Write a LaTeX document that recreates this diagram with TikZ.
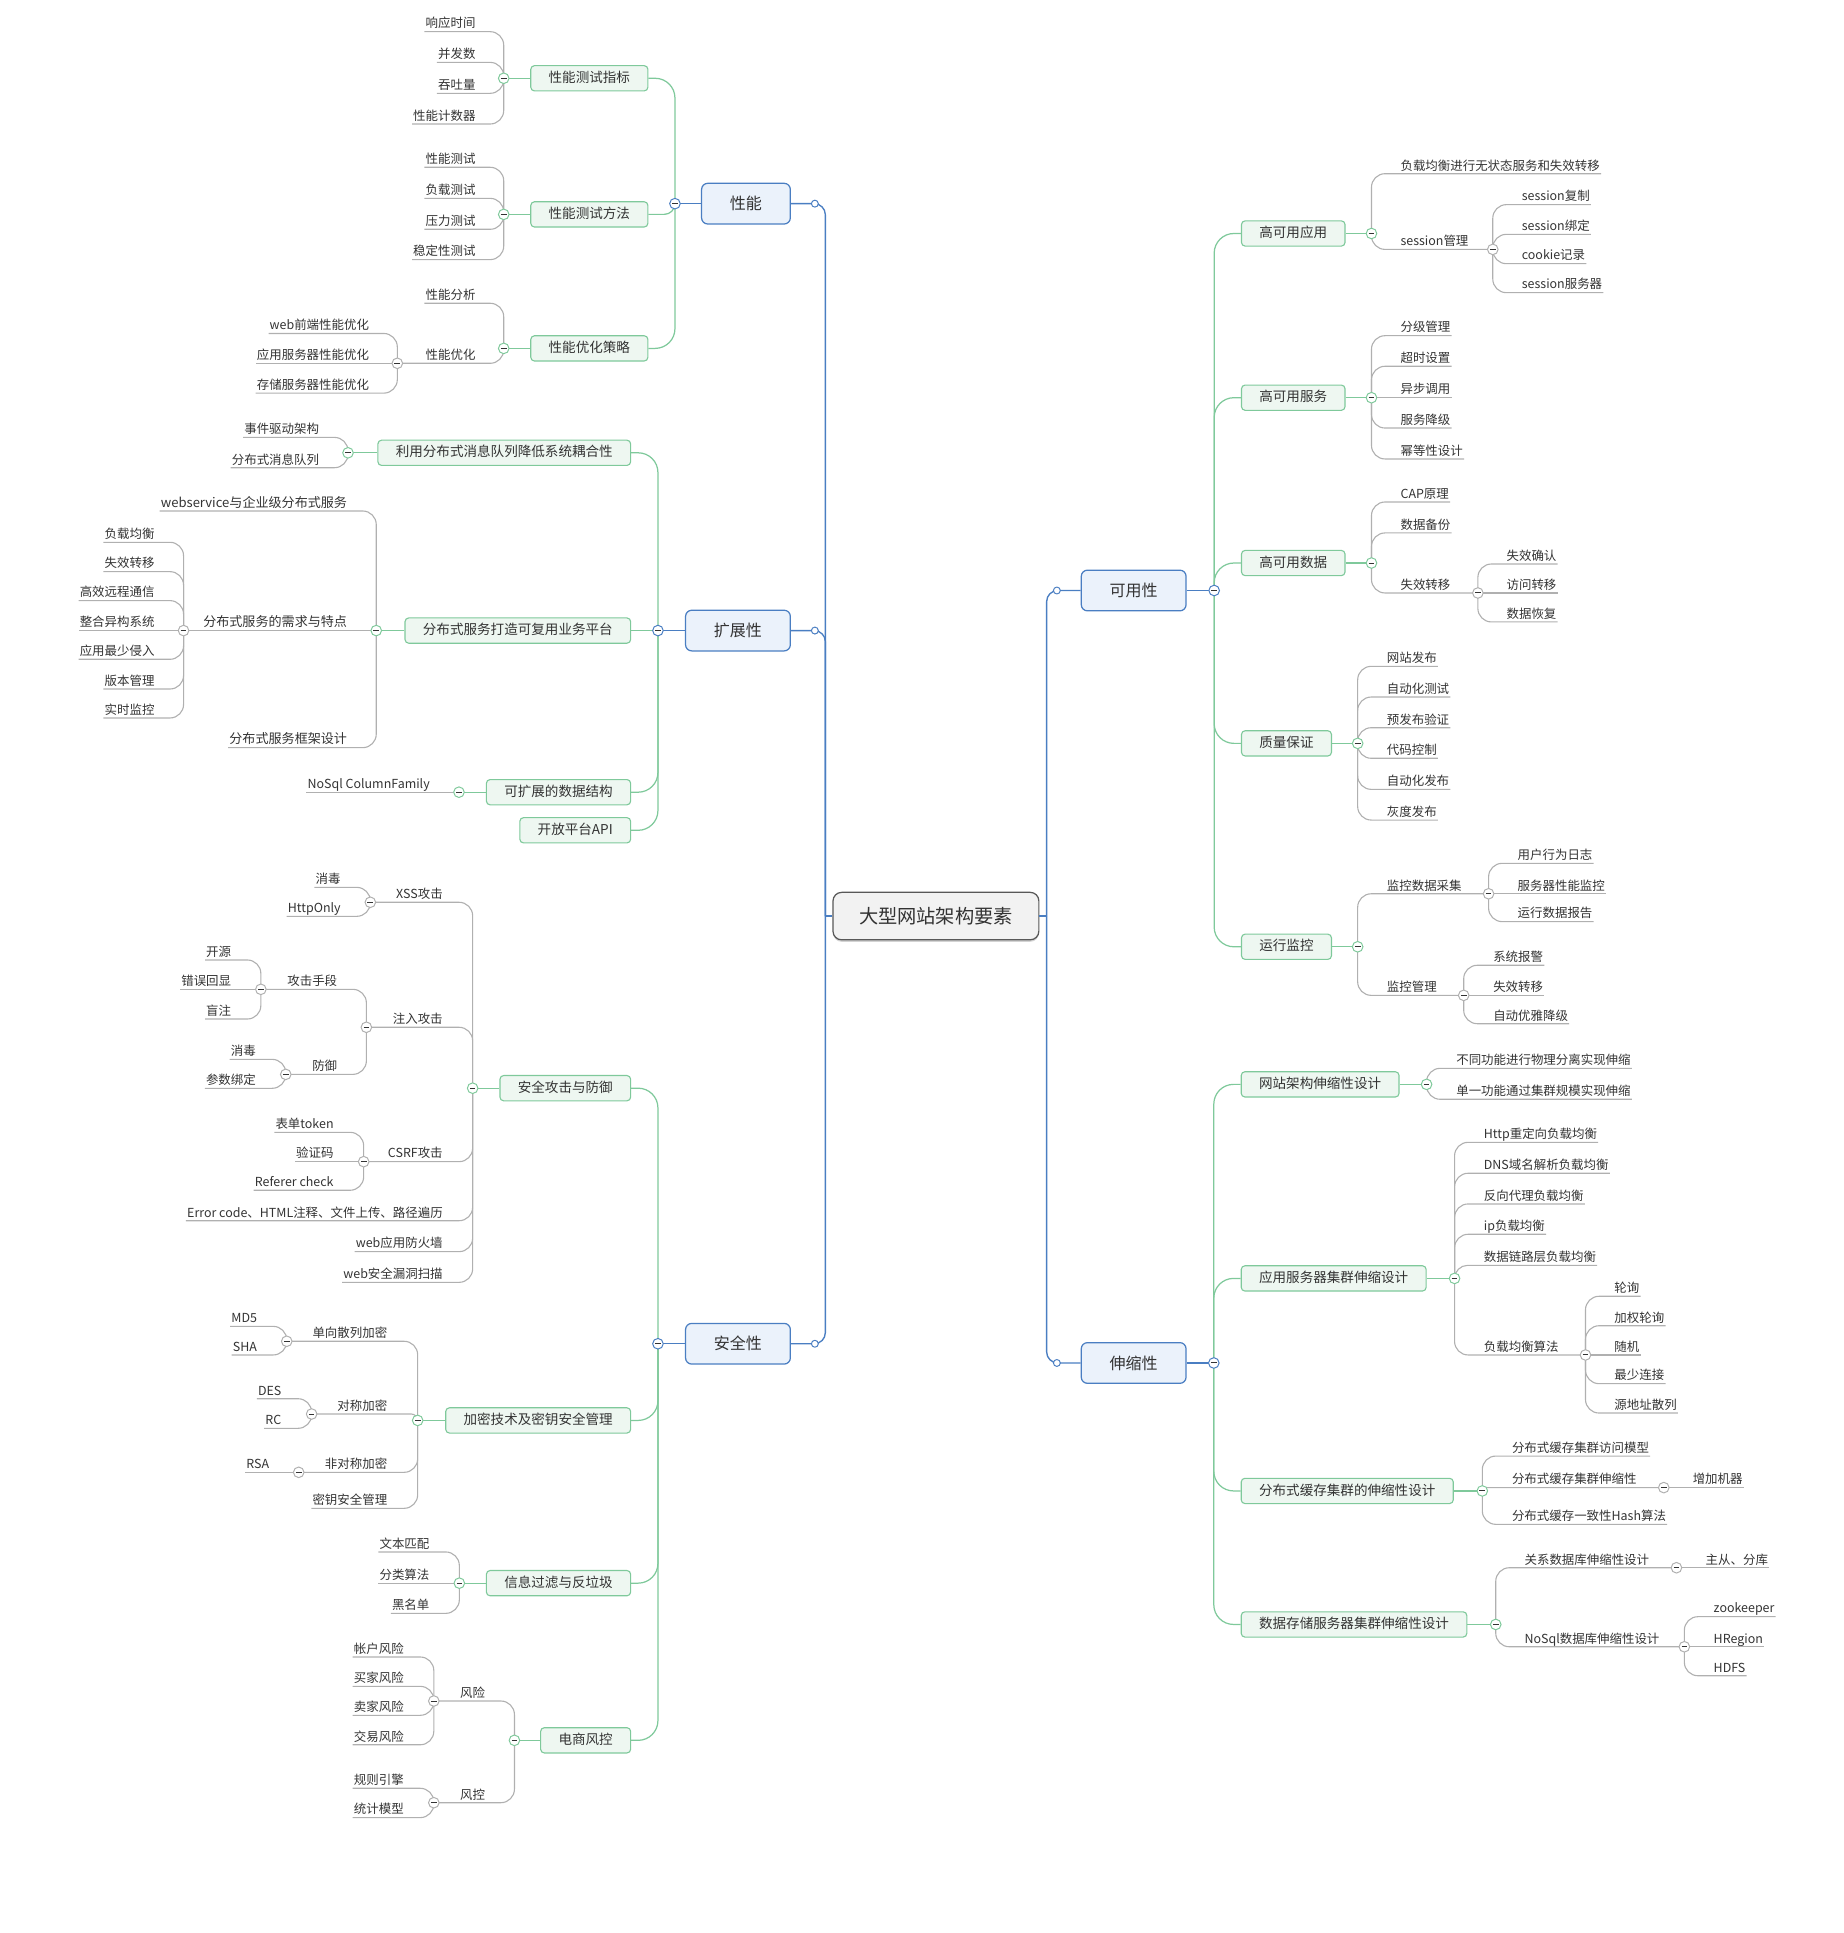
\documentclass[tikz,border=0pt]{standalone}
\usepackage{fontspec}
\setmainfont{Noto Sans CJK SC}
\usepackage{tikz}
\usetikzlibrary{calc, shadows}
\definecolor{azul}{HTML}{4A7EC2}
\definecolor{azulclaro}{HTML}{EBF2FB}
\definecolor{verde}{HTML}{7FC99B}
\definecolor{verdeclaro}{HTML}{EEF7F1}
\definecolor{gris}{HTML}{B0B0B0}
\definecolor{grisclaro}{HTML}{F2F2F2}
\definecolor{grisoscuro}{HTML}{585858}
\definecolor{tinta}{HTML}{333333}
\tikzset{
  raiz/.style={draw=grisoscuro, fill=grisclaro, line width=1pt, rounded corners=7pt,
               drop shadow={opacity=0.35, shadow xshift=0pt, shadow yshift=-1.6pt},
               minimum width=167pt, minimum height=38.5pt, text=tinta, font=\fontsize{15.6}{18}\selectfont},
  tema/.style={draw=azul, fill=azulclaro, line width=1pt, rounded corners=5pt,
               minimum height=33pt, inner xsep=23pt, text=tinta, font=\fontsize{13}{15}\selectfont},
  sub/.style={draw=verde, fill=verdeclaro, line width=0.9pt, rounded corners=3pt,
              minimum height=20.5pt, inner xsep=14.5pt, inner ysep=0pt, text height=8.8pt, text depth=2pt,
              text=tinta, font=\fontsize{11}{13}\selectfont},
  hoja/.style={inner xsep=0.8pt, inner ysep=1pt, text height=8.2pt, text depth=1.8pt,
               text=tinta, font=\fontsize{10.1}{12}\selectfont},
  hojag/.style={text height=8.6pt, font=\fontsize{10.6}{13}\selectfont},
  hojai/.style={hoja, anchor=south east},
  hojad/.style={hoja, anchor=south west},
  lazoa/.style={draw=azul, line width=1.1pt},
  lazov/.style={draw=verde, line width=1pt},
  lazog/.style={draw=gris, line width=0.9pt},
  nudo/.style={circle, fill=white, line width=0.8pt, minimum size=8.6pt, inner sep=0pt,
               path picture={\draw[tinta, line width=0.8pt]
                 ([xshift=-2.3pt]path picture bounding box.center) -- ([xshift=2.3pt]path picture bounding box.center);}},
  punto/.style={circle, draw=azul, fill=white, line width=0.8pt, minimum size=5.6pt, inner sep=0pt},
}
% rama: vertical from the junction, round corner, then along to the child
\newcommand\rama[4][11]{%
  \draw[#2] let \p1=(#3), \p2=(#4), \n1={min(abs(\y2-(\y1)),#1)} in [rounded corners=\n1] (#3) |- (#4)}

\begin{document}
\begin{tikzpicture}[x=1pt, y=-1pt]
\useasboundingbox (0,0) rectangle (1495,1568);

\node[raiz] (raiz) at (759.2,743.1) {大型网站架构要素};
\coordinate (ci) at (669.5,743.1);
\coordinate (cd) at (849,743.1);

% ---------- 性能
\node[tema, anchor=east] (ren) at (641.6,165.2) {性能};
\coordinate (pren) at (661,165.2);
\coordinate (jren) at (547.5,165.2);
\node[sub, anchor=east] (ren1) at (526,63.5) {性能测试指标};
\node[sub, anchor=east] (ren2) at (526,173.9) {性能测试方法};
\node[sub, anchor=east] (ren3) at (526,282.6) {性能优化策略};
\coordinate (jren1) at (408.6,63.5);
\coordinate (jren2) at (408.6,173.9);
\coordinate (jren3) at (408.6,282.6);
\node[hojai] (ren1a) at (386.7,25.7) {响应时间};
\node[hojai] (ren1b) at (386.7,50.6) {并发数};
\node[hojai] (ren1c) at (386.7,75.7) {吞吐量};
\node[hojai] (ren1d) at (386.7,100.6) {性能计数器};
\node[hojai] (ren2a) at (386.7,135.7) {性能测试};
\node[hojai] (ren2b) at (386.7,160.9) {负载测试};
\node[hojai] (ren2c) at (386.7,186) {压力测试};
\node[hojai] (ren2d) at (386.7,210.6) {稳定性测试};
\node[hojai] (ren3a) at (386.7,246) {性能分析};
\node[hojai] (ren3b) at (386.7,294.7) {性能优化};
\coordinate (jren3b) at (322.3,294.7);
\node[hojai] (ren3b1) at (300.3,270.5) {web前端性能优化};
\node[hojai] (ren3b2) at (300.3,294.7) {应用服务器性能优化};
\node[hojai] (ren3b3) at (300.3,318.9) {存储服务器性能优化};

% ---------- 扩展性
\node[tema, anchor=east] (ext) at (641.6,511.5) {扩展性};
\coordinate (pext) at (661,511.5);
\coordinate (jext) at (533.7,511.5);
\node[sub, anchor=east] (ext1) at (512,367.3) {利用分布式消息队列降低系统耦合性};
\coordinate (jext1) at (282.3,367.3);
\node[hojai] (ext1a) at (259.8,354.8) {事件驱动架构};
\node[hojai] (ext1b) at (259.8,379.4) {分布式消息队列};
\node[sub, anchor=east] (ext2) at (512,511.5) {分布式服务打造可复用业务平台};
\coordinate (jext2) at (305.2,511.5);
\node[hojai, hojag] (ext2a) at (282.5,414.5) {webservice与企业级分布式服务};
\node[hojai, hojag] (ext2b) at (282.5,511.5) {分布式服务的需求与特点};
\coordinate (jext2b) at (148.9,511.5);
\node[hojai] (ext2b1) at (126.3,439.9) {负载均衡};
\node[hojai] (ext2b2) at (126.3,463.7) {失效转移};
\node[hojai] (ext2b3) at (126.3,487.2) {高效远程通信};
\node[hojai] (ext2b4) at (126.3,511.5) {整合异构系统};
\node[hojai] (ext2b5) at (126.3,534.8) {应用最少侵入};
\node[hojai] (ext2b6) at (126.3,558.9) {版本管理};
\node[hojai] (ext2b7) at (126.3,582.4) {实时监控};
\node[hojai, hojag] (ext2c) at (282.5,606.5) {分布式服务框架设计};
\node[sub, anchor=east] (ext3) at (512,642.6) {可扩展的数据结构};
\coordinate (jext3) at (372.3,642.6);
\node[hojai] (ext3a) at (349.6,642.6) {NoSql ColumnFamily};
\node[sub, anchor=east] (ext4) at (512,673.5) {开放平台API};

% ---------- 安全性
\node[tema, anchor=east] (seg) at (641.6,1090) {安全性};
\coordinate (pseg) at (661,1090);
\coordinate (jseg) at (533.7,1090);
\node[sub, anchor=east] (seg1) at (512,882.7) {安全攻击与防御};
\coordinate (jseg1) at (383.4,882.7);
\node[hojai] (seg1a) at (360.1,731.9) {XSS攻击};
\coordinate (jseg1a) at (300.4,731.9);
\node[hojai] (seg1a1) at (277.3,719.8) {消毒};
\node[hojai] (seg1a2) at (277.3,743.3) {HttpOnly};
\node[hojai] (seg1b) at (360.1,833.3) {注入攻击};
\coordinate (jseg1b) at (297.2,833.3);
\node[hojai] (seg1b1) at (274.5,802.5) {攻击手段};
\coordinate (jseg1b1) at (211.6,802.5);
\node[hojai] (seg1b1a) at (188.5,778.7) {开源};
\node[hojai] (seg1b1b) at (188.5,802.5) {错误回显};
\node[hojai] (seg1b1c) at (188.5,826.6) {盲注};
\node[hojai] (seg1b2) at (274.5,871.5) {防御};
\coordinate (jseg1b2) at (231.8,871.5);
\node[hojai] (seg1b2a) at (208.5,859.3) {消毒};
\node[hojai] (seg1b2b) at (208.5,882.8) {参数绑定};
\node[hojai] (seg1c) at (360.1,942.3) {CSRF攻击};
\coordinate (jseg1c) at (295,942.3);
\node[hojai] (seg1c1) at (271.6,918.5) {表单token};
\node[hojai] (seg1c2) at (271.6,942.3) {验证码};
\node[hojai] (seg1c3) at (271.6,965.5) {Referer check};
\node[hojai] (seg1d) at (360.1,990.2) {Error code、HTML注释、文件上传、路径遍历};
\node[hojai] (seg1e) at (360.1,1015.3) {web应用防火墙};
\node[hojai] (seg1f) at (360.1,1040.2) {web安全漏洞扫描};
\node[sub, anchor=east] (seg2) at (512,1152.2) {加密技术及密钥安全管理};
\coordinate (jseg2) at (338.8,1152.2);
\node[hojai] (seg2a) at (315.1,1088) {单向散列加密};
\coordinate (jseg2a) at (232.6,1088);
\node[hojai] (seg2a1) at (209.5,1075.9) {MD5};
\node[hojai] (seg2a2) at (209.5,1099.1) {SHA};
\node[hojai] (seg2b) at (315.1,1147) {对称加密};
\coordinate (jseg2b) at (252.8,1147);
\node[hojai] (seg2b1) at (229.2,1134.6) {DES};
\node[hojai] (seg2b2) at (229.2,1158.6) {RC};
\node[hojai] (seg2c) at (315.1,1194.3) {非对称加密};
\coordinate (jseg2c) at (242.3,1194.3);
\node[hojai] (seg2c1) at (219.3,1194.3) {RSA};
\node[hojai] (seg2d) at (315.1,1223.5) {密钥安全管理};
\node[sub, anchor=east] (seg3) at (512,1284.2) {信息过滤与反垃圾};
\coordinate (jseg3) at (372.6,1284.2);
\node[hojai] (seg3a) at (349.3,1258.9) {文本匹配};
\node[hojai] (seg3b) at (349.3,1284.2) {分类算法};
\node[hojai] (seg3c) at (349.3,1308.7) {黑名单};
\node[sub, anchor=east] (seg4) at (512,1411.7) {电商风控};
\coordinate (jseg4) at (417.3,1411.7);
\node[hojai] (seg4a) at (394.5,1379.8) {风险};
\coordinate (jseg4a) at (351.9,1379.8);
\node[hojai] (seg4a1) at (328.5,1344.1) {帐户风险};
\node[hojai] (seg4a2) at (328.5,1367.9) {买家风险};
\node[hojai] (seg4a3) at (328.5,1391.4) {卖家风险};
\node[hojai] (seg4a4) at (328.5,1415.3) {交易风险};
\node[hojai] (seg4b) at (394.5,1462.3) {风控};
\coordinate (jseg4b) at (351.9,1462.3);
\node[hojai] (seg4b1) at (328.5,1450.6) {规则引擎};
\node[hojai] (seg4b2) at (328.5,1474.4) {统计模型};

% ---------- 可用性
\node[tema, anchor=west] (dis) at (876.6,479) {可用性};
\coordinate (pdis) at (857.3,479);
\coordinate (jdis) at (984.9,479);
\node[sub, anchor=west] (dis1) at (1006.6,189.4) {高可用应用};
\coordinate (jdis1) at (1112.5,189.4);
\node[hojad] (dis1a) at (1135.1,140.9) {负载均衡进行无状态服务和失效转移};
\node[hojad] (dis1b) at (1135.1,202.3) {session管理};
\coordinate (jdis1b) at (1210.9,202.3);
\node[hojad] (dis1b1) at (1233.5,166) {session复制};
\node[hojad] (dis1b2) at (1233.5,190.1) {session绑定};
\node[hojad] (dis1b3) at (1233.5,213.9) {cookie记录};
\node[hojad] (dis1b4) at (1233.5,237.4) {session服务器};
\node[sub, anchor=west] (dis2) at (1006.6,322.6) {高可用服务};
\coordinate (jdis2) at (1112.5,322.6);
\node[hojad] (dis2a) at (1135.1,272.3) {分级管理};
\node[hojad] (dis2b) at (1135.1,297.1) {超时设置};
\node[hojad] (dis2c) at (1135.1,322.6) {异步调用};
\node[hojad] (dis2d) at (1135.1,347.2) {服务降级};
\node[hojad] (dis2e) at (1135.1,372.3) {幂等性设计};
\node[sub, anchor=west] (dis3) at (1006.6,456.7) {高可用数据};
\coordinate (jdis3) at (1112.5,456.7);
\node[hojad] (dis3a) at (1135.1,407.2) {CAP原理};
\node[hojad] (dis3b) at (1135.1,432.3) {数据备份};
\node[hojad] (dis3c) at (1135.1,481) {失效转移};
\coordinate (jdis3c) at (1198.8,481);
\node[hojad] (dis3c1) at (1221.1,457.5) {失效确认};
\node[hojad] (dis3c2) at (1221.1,481) {访问转移};
\node[hojad] (dis3c3) at (1221.1,504.5) {数据恢复};
\node[sub, anchor=west] (dis4) at (1006.6,603) {质量保证};
\coordinate (jdis4) at (1101.3,603);
\node[hojad] (dis4a) at (1124,540.5) {网站发布};
\node[hojad] (dis4b) at (1124,565.4) {自动化测试};
\node[hojad] (dis4c) at (1124,590.3) {预发布验证};
\node[hojad] (dis4d) at (1124,615.1) {代码控制};
\node[hojad] (dis4e) at (1124,640.3) {自动化发布};
\node[hojad] (dis4f) at (1124,665.2) {灰度发布};
\node[sub, anchor=west] (dis5) at (1006.6,768) {运行监控};
\coordinate (jdis5) at (1101.3,768);
\node[hojad] (dis5a) at (1124,725) {监控数据采集};
\coordinate (jdis5a) at (1207.5,725);
\node[hojad] (dis5a1) at (1230.1,700.3) {用户行为日志};
\node[hojad] (dis5a2) at (1230.1,725) {服务器性能监控};
\node[hojad] (dis5a3) at (1230.1,747.6) {运行数据报告};
\node[hojad] (dis5b) at (1124,807.4) {监控管理};
\coordinate (jdis5b) at (1187.3,807.4);
\node[hojad] (dis5b1) at (1210.3,783) {系统报警};
\node[hojad] (dis5b2) at (1210.3,807.4) {失效转移};
\node[hojad] (dis5b3) at (1210.3,830.4) {自动优雅降级};

% ---------- 伸缩性
\node[tema, anchor=west] (cre) at (876.6,1105.6) {伸缩性};
\coordinate (pcre) at (857.3,1105.6);
\coordinate (jcre) at (984.6,1105.6);
\node[sub, anchor=west] (cre1) at (1006.4,879.6) {网站架构伸缩性设计};
\coordinate (jcre1) at (1157.2,879.6);
\node[hojad] (cre1a) at (1180.3,866.6) {不同功能进行物理分离实现伸缩};
\node[hojad] (cre1b) at (1180.3,891.7) {单一功能通过集群规模实现伸缩};
\node[sub, anchor=west] (cre2) at (1006.4,1037) {应用服务器集群伸缩设计};
\coordinate (jcre2) at (1179.9,1037);
\node[hojad] (cre2a) at (1202.7,926.6) {Http重定向负载均衡};
\node[hojad] (cre2b) at (1202.7,951.7) {DNS域名解析负载均衡};
\node[hojad] (cre2c) at (1202.7,976.6) {反向代理负载均衡};
\node[hojad] (cre2d) at (1202.7,1001.2) {ip负载均衡};
\node[hojad] (cre2e) at (1202.7,1026.4) {数据链路层负载均衡};
\node[hojad] (cre2f) at (1202.7,1099.1) {负载均衡算法};
\coordinate (jcre2f) at (1286.1,1099.1);
\node[hojad] (cre2f1) at (1308.6,1051.5) {轮询};
\node[hojad] (cre2f2) at (1308.6,1075.4) {加权轮询};
\node[hojad] (cre2f3) at (1308.6,1099.1) {随机};
\node[hojad] (cre2f4) at (1308.6,1122.4) {最少连接};
\node[hojad] (cre2f5) at (1308.6,1146.2) {源地址散列};
\node[sub, anchor=west] (cre3) at (1006.4,1209.4) {分布式缓存集群的伸缩性设计};
\coordinate (jcre3) at (1202.4,1209.4);
\node[hojad] (cre3a) at (1225.5,1181.1) {分布式缓存集群访问模型};
\node[hojad] (cre3b) at (1225.5,1206.7) {分布式缓存集群伸缩性};
\coordinate (jcre3b) at (1349.6,1206.7);
\node[hojad] (cre3b1) at (1372.1,1206.7) {增加机器};
\node[hojad] (cre3c) at (1225.5,1236.5) {分布式缓存一致性Hash算法};
\node[sub, anchor=west] (cre4) at (1006.4,1317.7) {数据存储服务器集群伸缩性设计};
\coordinate (jcre4) at (1213.3,1317.7);
\node[hojad] (cre4a) at (1235.7,1271.7) {关系数据库伸缩性设计};
\coordinate (jcre4a) at (1359.9,1271.7);
\node[hojad] (cre4a1) at (1382.6,1271.7) {主从、分库};
\node[hojad] (cre4b) at (1235.7,1335.8) {NoSql数据库伸缩性设计};
\coordinate (jcre4b) at (1366.3,1335.8);
\node[hojad] (cre4b1) at (1389.1,1311.4) {zookeeper};
\node[hojad] (cre4b2) at (1389.1,1335.8) {HRegion};
\node[hojad] (cre4b3) at (1389.1,1359.3) {HDFS};

% ---------- connectors: root
\draw[lazoa] (raiz.west) -- (ci);
\draw[lazoa] (raiz.east) -- (cd);
\foreach \t in {ren,ext,seg} {\rama[9]{lazoa}{ci}{\t.east}; \draw[lazoa] (\t.west) -- (j\t);}
\foreach \t in {dis,cre} {\rama[9]{lazoa}{cd}{\t.west}; \draw[lazoa] (\t.east) -- (j\t);}

% green level
\foreach \s in {1,2,3} {\rama[16]{lazov}{jren}{ren\s.east}; \draw[lazov] (ren\s.west) -- (jren\s);}
\foreach \s in {1,3,4} \rama[16]{lazov}{jext}{ext\s.east};
\draw[lazov] (jext) -- (ext2.east);
\foreach \s in {1,2,3} \draw[lazov] (ext\s.west) -- (jext\s);
\foreach \s in {1,...,4} {\rama[16]{lazov}{jseg}{seg\s.east}; \draw[lazov] (seg\s.west) -- (jseg\s);}
\foreach \s in {1,...,5} {\rama[16]{lazov}{jdis}{dis\s.west}; \draw[lazov] (dis\s.east) -- (jdis\s);}
\foreach \s in {1,...,4} {\rama[16]{lazov}{jcre}{cre\s.west}; \draw[lazov] (cre\s.east) -- (jcre\s);}

% grey level, left
\foreach \h in {a,...,d} \rama{lazog}{jren1}{ren1\h.south west};
\foreach \h in {a,...,d} \rama{lazog}{jren2}{ren2\h.south west};
\rama{lazog}{jren3}{ren3a.south west};
\rama{lazog}{jren3}{jren3b};
\foreach \h in {1,3} \rama{lazog}{jren3b}{ren3b\h.south west};
\draw[lazog] (jren3b) -- (ren3b2.south west);
\foreach \h in {a,b} \rama{lazog}{jext1}{ext1\h.south west};
\rama{lazog}{jext2}{ext2a.south west};
\rama{lazog}{jext2}{ext2c.south west};
\draw[lazog] (jext2) -- (jext2b);
\foreach \h in {1,2,3,5,6,7} \rama{lazog}{jext2b}{ext2b\h.south west};
\draw[lazog] (jext2b) -- (ext2b4.south west);
\draw[lazog] (jext3) -- (ext3a.south west);
\foreach \h in {a,b,c} \rama{lazog}{jseg1}{jseg1\h};
\foreach \h in {d,e,f} \rama{lazog}{jseg1}{seg1\h.south west};
\foreach \h in {1,2} \rama{lazog}{jseg1a}{seg1a\h.south west};
\foreach \h in {1,2} \rama{lazog}{jseg1b}{jseg1b\h};
\foreach \h in {a,c} \rama{lazog}{jseg1b1}{seg1b1\h.south west};
\draw[lazog] (jseg1b1) -- (seg1b1b.south west);
\foreach \h in {a,b} \rama{lazog}{jseg1b2}{seg1b2\h.south west};
\foreach \h in {1,3} \rama{lazog}{jseg1c}{seg1c\h.south west};
\draw[lazog] (jseg1c) -- (seg1c2.south west);
\foreach \h in {a,b,c} \rama{lazog}{jseg2}{jseg2\h};
\rama{lazog}{jseg2}{seg2d.south west};
\foreach \h in {1,2} \rama{lazog}{jseg2a}{seg2a\h.south west};
\foreach \h in {1,2} \rama{lazog}{jseg2b}{seg2b\h.south west};
\draw[lazog] (jseg2c) -- (seg2c1.south west);
\foreach \h in {a,c} \rama{lazog}{jseg3}{seg3\h.south west};
\draw[lazog] (jseg3) -- (seg3b.south west);
\foreach \h in {a,b} \rama{lazog}{jseg4}{jseg4\h};
\foreach \h in {1,...,4} \rama{lazog}{jseg4a}{seg4a\h.south west};
\foreach \h in {1,2} \rama{lazog}{jseg4b}{seg4b\h.south west};

% grey level, right
\rama{lazog}{jdis1}{dis1a.south east};
\rama{lazog}{jdis1}{jdis1b};
\foreach \h in {1,...,4} \rama{lazog}{jdis1b}{dis1b\h.south east};
\foreach \h in {a,b,d,e} \rama{lazog}{jdis2}{dis2\h.south east};
\draw[lazog] (jdis2) -- (dis2c.south east);
\foreach \h in {a,b} \rama{lazog}{jdis3}{dis3\h.south east};
\rama{lazog}{jdis3}{jdis3c};
\foreach \h in {1,3} \rama{lazog}{jdis3c}{dis3c\h.south east};
\draw[lazog] (jdis3c) -- (dis3c2.south east);
\foreach \h in {a,...,f} \rama{lazog}{jdis4}{dis4\h.south east};
\foreach \h in {a,b} \rama{lazog}{jdis5}{jdis5\h};
\foreach \h in {1,3} \rama{lazog}{jdis5a}{dis5a\h.south east};
\draw[lazog] (jdis5a) -- (dis5a2.south east);
\foreach \h in {1,3} \rama{lazog}{jdis5b}{dis5b\h.south east};
\draw[lazog] (jdis5b) -- (dis5b2.south east);
\foreach \h in {a,b} \rama{lazog}{jcre1}{cre1\h.south east};
\foreach \h in {a,...,e} \rama{lazog}{jcre2}{cre2\h.south east};
\rama{lazog}{jcre2}{jcre2f};
\foreach \h in {1,2,4,5} \rama{lazog}{jcre2f}{cre2f\h.south east};
\draw[lazog] (jcre2f) -- (cre2f3.south east);
\foreach \h in {a,c} \rama{lazog}{jcre3}{cre3\h.south east};
\rama{lazog}{jcre3}{jcre3b};
\draw[lazog] (jcre3b) -- (cre3b1.south east);
\foreach \h in {a,b} \rama{lazog}{jcre4}{jcre4\h};
\draw[lazog] (jcre4a) -- (cre4a1.south east);
\foreach \h in {1,3} \rama{lazog}{jcre4b}{cre4b\h.south east};
\draw[lazog] (jcre4b) -- (cre4b2.south east);

% collapse marks on top
\foreach \j in {jren,jext,jseg,jdis,jcre}
  \node[nudo, draw=azul] (n\j) at (\j) {};
\foreach \j in {jren1,jren2,jren3,jext1,jext2,jext3,jseg1,jseg2,jseg3,jseg4,
                jdis1,jdis2,jdis3,jdis4,jdis5,jcre1,jcre2,jcre3,jcre4}
  \node[nudo, draw=verde] (n\j) at (\j) {};
\foreach \j in {jren3b,jext2b,jseg1a,jseg1b,jseg1b1,jseg1b2,jseg1c,jseg2a,jseg2b,jseg2c,
                jseg4a,jseg4b,jdis1b,jdis3c,jdis5a,jdis5b,jcre2f,jcre3b,jcre4a,jcre4b}
  \node[nudo, draw=gris] (n\j) at (\j) {};
\foreach \p in {pren,pext,pseg,pdis,pcre}
  \node[punto] (n\p) at (\p) {};
\end{tikzpicture}
\end{document}
